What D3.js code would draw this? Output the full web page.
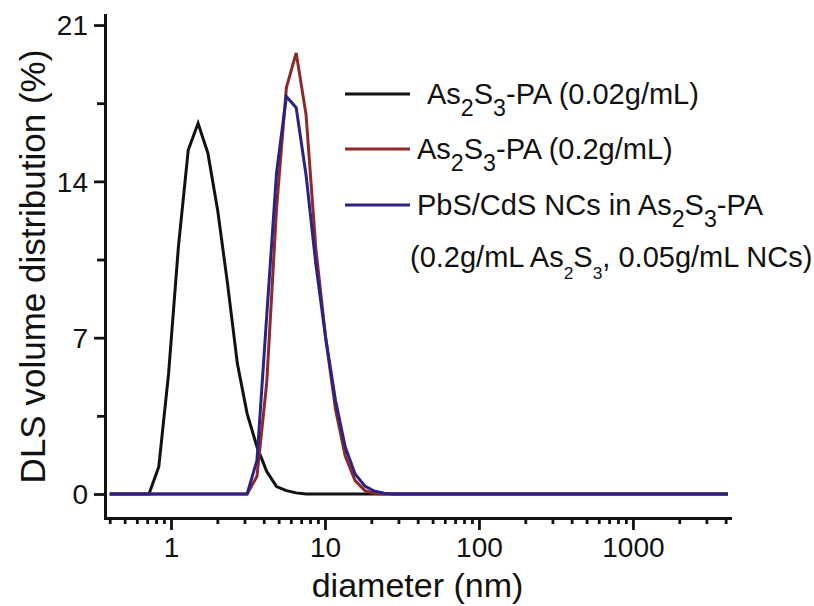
<!DOCTYPE html>
<html><head><meta charset="utf-8">
<script src="https://cdn.jsdelivr.net/npm/d3@7/dist/d3.min.js"></script>
<style>
html,body{margin:0;padding:0;background:#fff;}
svg{display:block;font-family:"Liberation Sans",Arial,sans-serif;}
</style></head>
<body>
<svg id="c" width="814" height="606"></svg>
<script>
// Diameter bins (nm)
const sizes = [0.4,0.4632,0.5365,0.6213,0.7195,0.8332,0.9649,1.117,1.294,1.499,1.736,2.01,2.328,2.696,3.122,3.615,4.187,4.849,5.615,6.503,7.531,8.721,10.1,11.7,13.54,15.69,18.17,21.04,24.36,28.21,32.67,37.84,43.82,50.75,58.77,68.06,78.82,91.28,105.7,122.4,141.8,164.2,190.1,220.2,255.0,295.3,342.0,396.1,458.7,531.2,615.1,712.4,825.0,955.4,1106,1281,1484,1718,1990,2305,2669,3091,3580,4145];
// As2S3-PA (0.02 g/mL)
const seriesBlack = [0,0,0,0,0,1.22,5.4,11.07,15.4,16.6,15.26,12.7,9.43,5.85,3.6,2.12,1.0,0.33,0.15,0.05,0,0,0,0,0,0,0,0,0,0,0,0,0,0,0,0,0,0,0,0,0,0,0,0,0,0,0,0,0,0,0,0,0,0,0,0,0,0,0,0,0,0,0,0];
// As2S3-PA (0.2 g/mL)
const seriesRed = [0,0,0,0,0,0,0,0,0,0,0,0,0,0,0,0.78,5.0,12.8,18.2,19.75,17.0,11.0,7.0,3.8,1.7,0.6,0.15,0.02,0,0,0,0,0,0,0,0,0,0,0,0,0,0,0,0,0,0,0,0,0,0,0,0,0,0,0,0,0,0,0,0,0,0,0,0];
// PbS/CdS NCs in As2S3-PA
const seriesBlue = [0,0,0,0,0,0,0,0,0,0,0,0,0,0,0,1.5,8.0,14.4,17.8,17.3,14.3,10.3,7.0,4.2,2.1,0.9,0.35,0.12,0.03,0,0,0,0,0,0,0,0,0,0,0,0,0,0,0,0,0,0,0,0,0,0,0,0,0,0,0,0,0,0,0,0,0,0,0];
const xMajorTicks = [1,10,100,1000];
const xMinorTicks = [0.4,0.5,0.6,0.7,0.8,0.9,2,3,4,5,6,7,8,9,20,30,40,50,60,70,80,90,200,300,400,500,600,700,800,900,2000,3000,4000];
const yMajorTicks = [0,7,14,21];
const yMinorTicks = [3.5,10.5,17.5];
const xDomain = [0.3727,4270];
const yDomain = [-1.075,21.45];

const svg = d3.select("#c");
const L=105, R=730, T=15, B=518;
const x = d3.scaleLog().domain(xDomain).range([L,R]);
const y = d3.scaleLinear().domain(yDomain).range([B,T]);

const colors = {black:"#111111", red:"#8c2a2a", blue:"#2c2284"};
const line = d3.line().x((d,i)=>x(sizes[i])).y(d=>y(d));

[[seriesBlack,colors.black],[seriesRed,colors.red],[seriesBlue,colors.blue]].forEach(([s,c])=>{
  svg.append("path").datum(s).attr("d",line).attr("fill","none")
    .attr("stroke",c).attr("stroke-width",3).attr("stroke-linejoin","miter");
});

// axes
const gx = svg.append("g").attr("transform",`translate(0,${B})`);
gx.call(d3.axisBottom(x).tickValues(xMinorTicks).tickSize(6).tickSizeOuter(0).tickFormat(""));
gx.selectAll(".tick text").remove();
const gx2 = svg.append("g").attr("transform",`translate(0,${B})`);
gx2.call(d3.axisBottom(x).tickValues(xMajorTicks).tickSize(12).tickSizeOuter(0).tickFormat(d3.format("d")));
gx2.select(".domain").remove();
const gy = svg.append("g").attr("transform",`translate(${L},0)`);
gy.call(d3.axisLeft(y).tickValues(yMinorTicks).tickSize(8).tickSizeOuter(0).tickFormat(""));
gy.selectAll(".tick text").remove();
const gy2 = svg.append("g").attr("transform",`translate(${L},0)`);
gy2.call(d3.axisLeft(y).tickValues(yMajorTicks).tickSize(11).tickSizeOuter(0));
gy2.select(".domain").remove();

svg.selectAll(".domain").attr("stroke","#111").attr("stroke-width",3).attr("stroke-linecap","square");
svg.selectAll(".tick line").attr("stroke","#111").attr("stroke-width",2.8);
gx2.selectAll(".tick text").attr("y",19).attr("dy","0.71em").attr("font-size",28)
  .attr("font-family","Liberation Sans, Arial, sans-serif").attr("fill","#111");
gy2.selectAll(".tick text").attr("x",-17).attr("dy","0.35em").attr("font-size",28)
  .attr("font-family","Liberation Sans, Arial, sans-serif").attr("fill","#111");

// axis titles
svg.append("text").attr("x",(L+R)/2).attr("y",597).attr("text-anchor","middle")
  .attr("font-size",34).attr("fill","#111").text("diameter (nm)");
svg.append("text").attr("transform",`translate(45,${(T+B)/2}) rotate(-90)`).attr("text-anchor","middle")
  .attr("font-size",35).attr("fill","#111").text("DLS volume distribution (%)");

// legend
const fs=29;
function label(xp,yp,parts,subScale){
  const t = svg.append("text").attr("x",xp).attr("y",yp).attr("font-size",fs).attr("fill","#111");
  let shift = 0;
  parts.forEach(p=>{
    if(typeof p==="string"){
      t.append("tspan").attr("dy",-shift).text(p); shift = 0;
    } else {
      const d = fs*0.4 - shift;
      t.append("tspan").attr("font-size",fs*subScale).attr("dy",d).text(p.sub);
      shift = fs*0.4;
    }
  });
}
const legendItems = [
  {c:colors.black, y:94, tx:427, parts:["As",{sub:"2"},"S",{sub:"3"},"-PA (0.02g/mL)"]},
  {c:colors.red, y:149, tx:417, parts:["As",{sub:"2"},"S",{sub:"3"},"-PA (0.2g/mL)"]},
  {c:colors.blue, y:205, tx:417, parts:["PbS/CdS NCs in As",{sub:"2"},"S",{sub:"3"},"-PA"]}
];
legendItems.forEach(it=>{
  svg.append("line").attr("x1",345).attr("x2",410).attr("y1",it.y).attr("y2",it.y)
    .attr("stroke",it.c).attr("stroke-width",3);
  label(it.tx,it.y+10,it.parts,0.8);
});
label(410,267,["(0.2g/mL As",{sub:"2"},"S",{sub:"3"},", 0.05g/mL NCs)"],0.6);
</script>
</body></html>
